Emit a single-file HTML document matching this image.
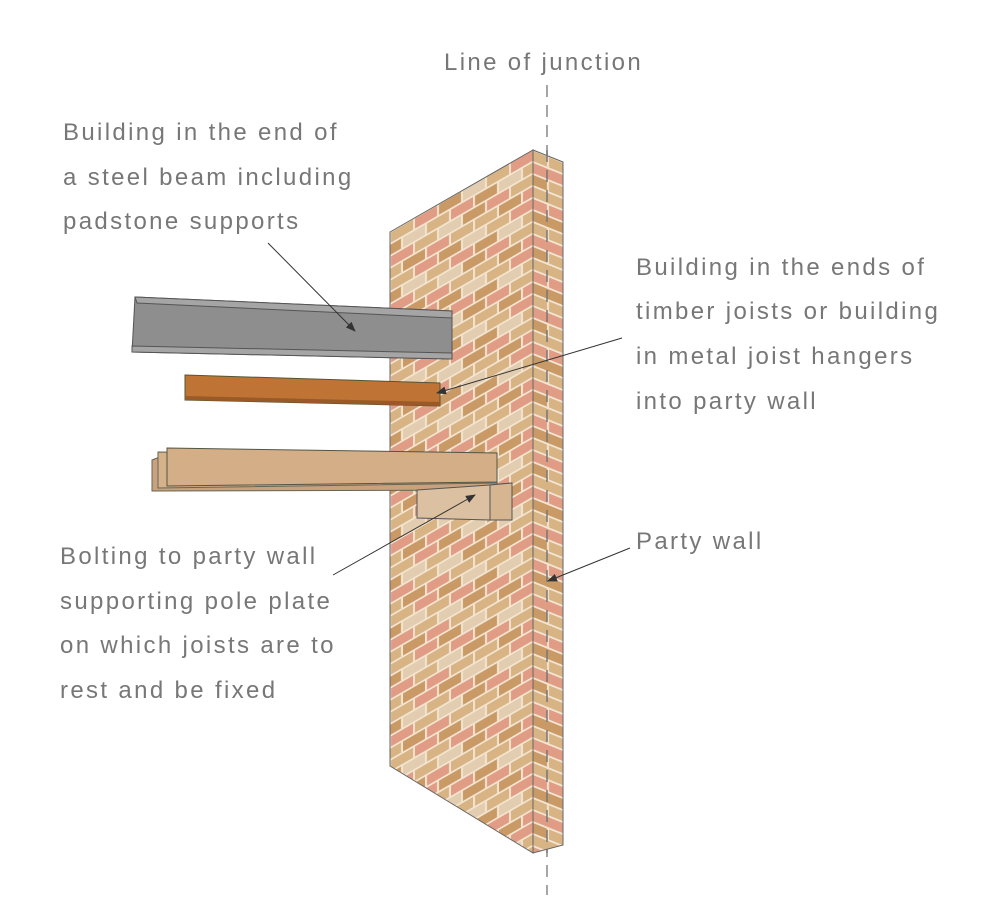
<!DOCTYPE html>
<html><head><meta charset="utf-8"><style>
body{margin:0;background:#fff}
svg{display:block}
text{font-family:"Liberation Sans",sans-serif;font-size:24px;fill:#777;letter-spacing:2.35px}
</style></head><body>
<svg width="1000" height="907" viewBox="0 0 1000 907">
<defs>
<pattern id="fb" width="96" height="48" patternUnits="userSpaceOnUse" patternTransform="translate(390,232) skewY(-30)">
<rect width="96" height="48" fill="#f2e4d0"/>
<g stroke="none">
<rect x="1" y="1" width="22" height="10" fill="#d8b383"/><rect x="25" y="1" width="22" height="10" fill="#e09c84"/><rect x="49" y="1" width="22" height="10" fill="#c99a66"/><rect x="73" y="1" width="22" height="10" fill="#e3cdb0"/>
<rect x="-11" y="13" width="22" height="10" fill="#c99a66"/><rect x="13" y="13" width="22" height="10" fill="#e3cdb0"/><rect x="37" y="13" width="22" height="10" fill="#d8b383"/><rect x="61" y="13" width="22" height="10" fill="#e09c84"/><rect x="85" y="13" width="22" height="10" fill="#c99a66"/>
<rect x="1" y="25" width="22" height="10" fill="#e09c84"/><rect x="25" y="25" width="22" height="10" fill="#d8b383"/><rect x="49" y="25" width="22" height="10" fill="#e3cdb0"/><rect x="73" y="25" width="22" height="10" fill="#c99a66"/>
<rect x="-11" y="37" width="22" height="10" fill="#d8b383"/><rect x="13" y="37" width="22" height="10" fill="#c99a66"/><rect x="37" y="37" width="22" height="10" fill="#e09c84"/><rect x="61" y="37" width="22" height="10" fill="#d8b383"/><rect x="85" y="37" width="22" height="10" fill="#d8b383"/>
</g></pattern>
<pattern id="sb" width="30" height="72" patternUnits="userSpaceOnUse" patternTransform="translate(533,150) skewY(22)">
<rect width="30" height="72" fill="#f2e4d0"/>
<rect x="0" y="1" width="14" height="10" fill="#d8b383"/><rect x="16" y="1" width="14" height="10" fill="#d8b383"/>
<rect x="0" y="13" width="30" height="10" fill="#e09c84"/>
<rect x="0" y="25" width="14" height="10" fill="#c99a66"/><rect x="16" y="25" width="14" height="10" fill="#d8b383"/>
<rect x="0" y="37" width="30" height="10" fill="#d8b383"/>
<rect x="0" y="49" width="14" height="10" fill="#e09c84"/><rect x="16" y="49" width="14" height="10" fill="#e09c84"/>
<rect x="0" y="61" width="30" height="10" fill="#c99a66"/>
</pattern>
<marker id="ar" markerWidth="10" markerHeight="8" refX="9" refY="4" orient="auto" markerUnits="userSpaceOnUse"><path d="M0,0 L10,4 L0,8z" fill="#333"/></marker>
</defs>
<line x1="547" y1="85" x2="547" y2="895" stroke="#888" stroke-width="1.5" stroke-dasharray="12,8"/>
<polygon points="390,232 533,150 533,853 390,766" fill="url(#fb)" stroke="#666" stroke-width="1"/>
<polygon points="533,150 563,162 563,845 533,853" fill="url(#sb)" stroke="#666" stroke-width="1"/>
<line x1="547" y1="150" x2="547" y2="853" stroke="#777" stroke-width="1.5" stroke-dasharray="12,8"/>
<polygon points="135,297 452,311 452,359 132,352" fill="#8e8e8e" stroke="#555"/>
<polygon points="135,297 452,311 452,318 137,303" fill="#a5a5a5" stroke="#555"/>
<polygon points="132,346 452,353 452,359 132,352" fill="#a5a5a5" stroke="#555"/>
<polygon points="185,375 440,383 440,406 185,400" fill="#bf7436" stroke="#553"/>
<polygon points="185,396 440,402 440,406 185,400" fill="#9a5a28"/>
<polygon points="152,460 162,456 497,460 497,490 152,491" fill="#c8a27e" stroke="#665"/>
<polygon points="158,452 497,455 497,483 158,488" fill="#d6b28a" stroke="#665"/>
<polygon points="167,448 497,453 497,482 167,486" fill="#d4ae86" stroke="#554"/>
<polygon points="417,490 490,485 512,483 512,520 490,520 417,518" fill="#dcc0a2" stroke="#555"/>
<polygon points="490,485 512,483 512,520 490,520" fill="#d6b591" stroke="#555"/>
<g stroke="#333" stroke-width="1" fill="none" marker-end="url(#ar)">
<line x1="268" y1="243" x2="355" y2="331"/>
<line x1="622" y1="338" x2="437" y2="393"/>
<line x1="333" y1="575" x2="475" y2="495"/>
<line x1="630" y1="548" x2="548" y2="581"/>
</g>
<text x="444" y="70">Line of junction</text>
<text x="63" y="140">Building in the end of</text>
<text x="63" y="185">a steel beam including</text>
<text x="63" y="229">padstone supports</text>
<text x="636" y="275">Building in the ends of</text>
<text x="636" y="319">timber joists or building</text>
<text x="636" y="364">in metal joist hangers</text>
<text x="636" y="409">into party wall</text>
<text x="636" y="549">Party wall</text>
<text x="60" y="564">Bolting to party wall</text>
<text x="60" y="609">supporting pole plate</text>
<text x="60" y="653">on which joists are to</text>
<text x="60" y="698">rest and be fixed</text>
</svg>
</body></html>
